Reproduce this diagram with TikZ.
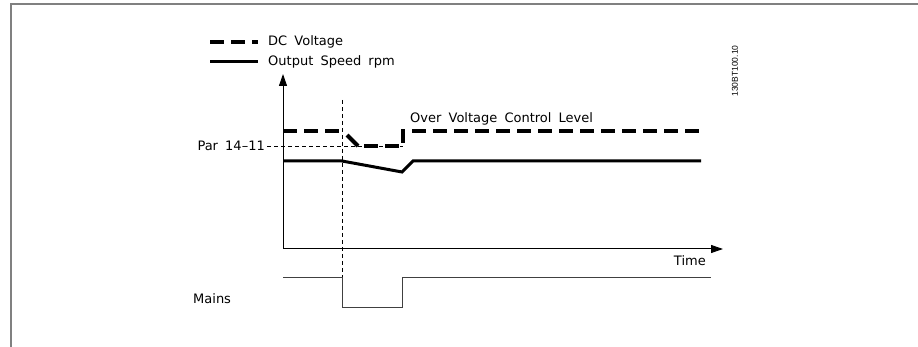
\documentclass[tikz,border=0pt]{standalone}
\usepackage{fontspec}
\setmainfont{DejaVu Sans}
\newfontfamily\codefont{Liberation Sans}
\usetikzlibrary{arrows.meta}
\newcommand\widesp{\spaceskip=0.55em plus 0.1em\relax}
\begin{document}
\begin{tikzpicture}[x=1pt,y=-1pt,
  lbl/.style={font=\fontsize{13}{15}\selectfont, inner sep=0pt, execute at begin node=\widesp},
  frame/.style={draw=black!50, line width=2pt},
  axis/.style={draw=black, line width=1pt, -{Triangle[length=12pt,width=8pt]}},
  dcline/.style={line width=4pt, dash pattern=on 14pt off 7pt},
  spdline/.style={line width=3pt},
  guide/.style={line width=0.8pt, dash pattern=on 4pt off 3pt},
  mainsline/.style={line width=1pt, draw=black!75}]
\useasboundingbox (0,0) rectangle (918,347);
% frame
\draw[frame] (11,347) -- (11,4) -- (918,4);
% legend
\coordinate (ld1) at (210,42); \coordinate (ld2) at (258,42);
\coordinate (ls1) at (210,62); \coordinate (ls2) at (258,62);
\draw[dcline] (ld1) -- (ld2);
\draw[spdline] (ls1) -- (ls2);
\node[lbl, anchor=west] (tdc) at (268,42) {DC Voltage};
\node[lbl, anchor=west] (tsp) at (268,62) {Output Speed rpm};
% axes
\coordinate (O) at (283,249);
\coordinate (ytop) at (283,74);
\coordinate (xend) at (723,249);
\draw[axis] (O) -- (ytop);
\draw[axis] (O) -- (xend);
\node[lbl, anchor=east] (ttime) at (706,261) {Time};
% vertical dashed event line
\coordinate (ev1) at (342,100); \coordinate (ev2) at (342,278);
\draw[guide] (ev1) -- (ev2);
% Par 14-11 guide
\node[lbl, anchor=east] (tpar) at (265,146) {Par 14–11};
\coordinate (pg) at (403,146);
\draw[guide] (tpar.east) ++(2,0) -- (pg);
% DC voltage
\coordinate (d1) at (283,131); \coordinate (d2) at (342,131);
\coordinate (d3) at (347,135); \coordinate (d4) at (358,146);
\coordinate (d5) at (364,146); \coordinate (d6) at (403,146);
\coordinate (d7) at (403,131); \coordinate (d8) at (703,131);
\draw[dcline] (d1) -- (d2);
\draw[line width=4pt] (d3) -- (d4);
\draw[dcline] (d5) -- (d6) -- (d7) -- (d8);
\node[lbl, anchor=west] (tovc) at (410,119) {Over Voltage Control Level};
% output speed
\coordinate (s1) at (283,161); \coordinate (s2) at (342,161);
\coordinate (s3) at (402,172); \coordinate (s4) at (413,161);
\coordinate (s5) at (701,161);
\draw[spdline, line join=miter] (s1) -- (s2) -- (s3) -- (s4) -- (s5);
% mains
\coordinate (m1) at (283,278); \coordinate (m2) at (342,278);
\coordinate (m3) at (342,307); \coordinate (m4) at (402,307);
\coordinate (m5) at (402,278); \coordinate (m6) at (711,278);
\draw[mainsline] (m1) -- (m2) -- (m3) -- (m4) -- (m5) -- (m6);
\node[lbl, anchor=west] (tmains) at (193,299) {Mains};
% drawing code
\node[font=\codefont\fontsize{8.5}{10}\selectfont, rotate=90, inner sep=0pt] (code) at (735,71) {130BT100.10};
\end{tikzpicture}
\end{document}
